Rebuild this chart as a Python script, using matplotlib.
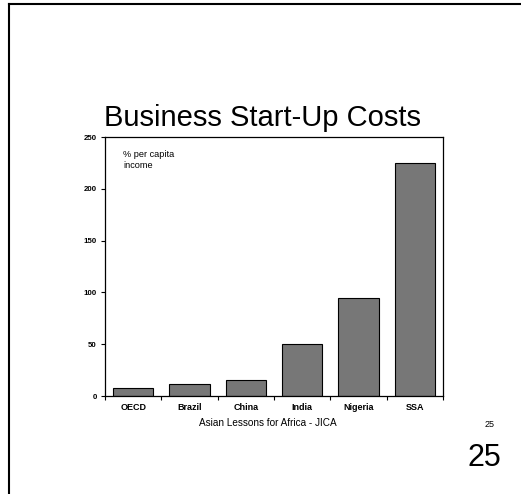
import matplotlib
matplotlib.use("Agg")
import matplotlib.pyplot as plt
from matplotlib.lines import Line2D

plt.rcParams["font.family"] = ["Liberation Sans", "DejaVu Sans"]

# Data
categories = ["OECD", "Brazil", "China", "India", "Nigeria", "SSA"]
costs = [8, 12, 15, 50, 95, 225]
yticks = [0, 50, 100, 150, 200, 250]

W, H = 521, 494
fig = plt.figure(figsize=(W / 100, H / 100), dpi=100)
ax = fig.add_axes([105 / W, 1 - 396 / H, (443 - 105) / W, (396 - 137) / H])

ax.bar(range(len(categories)), costs, width=0.72, color="#777777",
       edgecolor="black", linewidth=0.8, zorder=2)

ax.set_xlim(-0.5, len(categories) - 0.5)
ax.set_ylim(0, 250)
ax.set_yticks(yticks)
ax.set_yticklabels([str(v) for v in yticks], fontsize=5.7, fontweight="bold")
# separators between categories, labels centred under bars
ax.set_xticks([i + 0.5 for i in range(-1, len(categories))])
ax.set_xticklabels([])
ax.set_xticks(range(len(categories)), minor=True)
ax.set_xticklabels(categories, minor=True, fontsize=6.5, fontweight="bold")
ax.tick_params(axis="x", which="major", direction="out", length=3, width=0.8)
ax.tick_params(axis="x", which="minor", length=0, pad=5)
ax.tick_params(axis="y", direction="out", length=3, width=0.8, pad=3)
for s in ax.spines.values():
    s.set_linewidth(0.9)

ax.text(0.053, 0.95, "% per capita\nincome", transform=ax.transAxes,
        fontsize=6.6, ha="left", va="top", linespacing=1.25)

# slide text
fig.text(262 / W, 1 - 118 / H, "Business Start-Up Costs", fontsize=21,
         ha="center", va="center")
fig.text(268 / W, 1 - 423 / H, "Asian Lessons for Africa - JICA", fontsize=7.2,
         ha="center", va="center")
fig.text(490 / W, 1 - 424 / H, "25", fontsize=6.5, ha="center", va="center")
fig.text(484 / W, 1 - 458 / H, "25", fontsize=22, ha="center", va="center")

# slide frame (left and top edges)
fig.add_artist(Line2D([9.3 / W, 9.3 / W], [0, 1 - 4 / H], color="black",
                      linewidth=1.5, transform=fig.transFigure))
fig.add_artist(Line2D([9.3 / W, 1], [1 - 4 / H, 1 - 4 / H], color="black",
                      linewidth=1.5, transform=fig.transFigure))

fig.savefig("out.png", dpi=100, facecolor="white")
